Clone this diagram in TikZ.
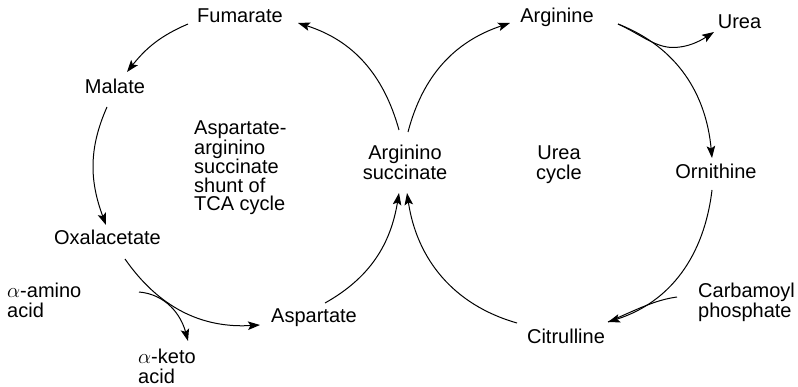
\documentclass[tikz,border=0pt]{standalone}
\usepackage{fontspec}
\setmainfont{Liberation Sans}
\usetikzlibrary{arrows.meta}
\tikzset{
  lbl/.style={font=\fontsize{20}{20}\selectfont, inner sep=0pt, anchor=base},
  multil/.style={font=\fontsize{20}{20}\selectfont, inner sep=0pt, align=left, anchor=base west},
  multic/.style={font=\fontsize{20}{20}\selectfont, inner sep=0pt, align=center, anchor=base},
  conn/.style={line width=1pt, -{Stealth[length=12pt,width=8.5pt,inset=2.5pt]}},
  plain/.style={line width=1pt}
}
\begin{document}
\begin{tikzpicture}[x=1pt,y=1pt]
\useasboundingbox (0,0) rectangle (798,386);
% nodes (multi-line nodes are placed by the baseline of their last line)
\node[lbl] (fum) at (240,363.3) {Fumarate};
\node[lbl] (mal) at (115,292) {Malate};
\node[lbl] (arg) at (557,363) {Arginine};
\node[lbl] (urea) at (739.5,357) {Urea};
\node[lbl] (orn) at (716,207) {Ornithine};
\node[lbl] (oxa) at (107.5,142) {Oxalacetate};
\node[lbl] (asp) at (314,64) {Aspartate};
\node[lbl] (cit) at (566,43) {Citrulline};
\node[multil, font=\fontsize{20}{18.5}\selectfont] (shunt) at (194,175) {Aspartate-\\arginino\\succinate\\shunt of\\TCA cycle};
\node[multic] (argsucc) at (405,206) {Arginino\\succinate};
\node[multic] (ucyc) at (559,206) {Urea\\cycle};
\node[multil] (amino) at (7,69) {$\alpha$-amino\\acid};
\node[multil] (keto) at (138,3) {$\alpha$-keto\\acid};
\node[multil] (carb) at (698,69) {Carbamoyl\\phosphate};
% connector end points
\coordinate (a1) at (399,256);
\coordinate (f1) at (298,363);
\coordinate (f2) at (188,362);
\coordinate (m1) at (127,314);
\coordinate (m2) at (107,279);
\coordinate (o1) at (106,161);
\coordinate (o2) at (125,127);
\coordinate (s1) at (260,61);
\coordinate (s2) at (325,83);
\coordinate (a2) at (399,193);
\coordinate (a3) at (408,254);
\coordinate (r1) at (510,363);
\coordinate (r2) at (618,362);
\coordinate (n1) at (712,228);
\coordinate (n2) at (712,196);
\coordinate (c1) at (608,64);
\coordinate (c2) at (517,63);
\coordinate (a4) at (407,193);
\coordinate (u1) at (714,354);
\coordinate (cp) at (677,89);
\coordinate (am) at (139,94);
\coordinate (k1) at (188,45);
% left cycle
\draw[conn] (a1) to[out=105.5,in=-17.6] (f1);
\draw[conn] (f2) to[out=203.2,in=51.4] (m1);
\draw[conn] (m2) to[out=246,in=110.4] (o1);
\draw[conn] (o2) to[out=304.9,in=183.3] (s1);
\draw[conn] (s2) to[out=29.3,in=260.7] (a2);
% right cycle
\draw[conn] (a3) to[out=75.3,in=198.5] (r1);
\draw[conn] (r2) to[out=-21.4,in=95.3] (n1);
\draw[conn] (n2) to[out=-96.75,in=17.7] (c1);
\draw[conn] (c2) to[out=164.1,in=278.5] (a4);
% branches
\draw[conn] (r2) .. controls (640,352) and (655,338.5) .. (673,338.5) .. controls (688,338.5) and (700,345) .. (u1);
\draw[plain] (cp) .. controls (655,86) and (638,77) .. (c1);
\draw[conn] (am) to[out=-5,in=105] (k1);
\end{tikzpicture}
\end{document}
